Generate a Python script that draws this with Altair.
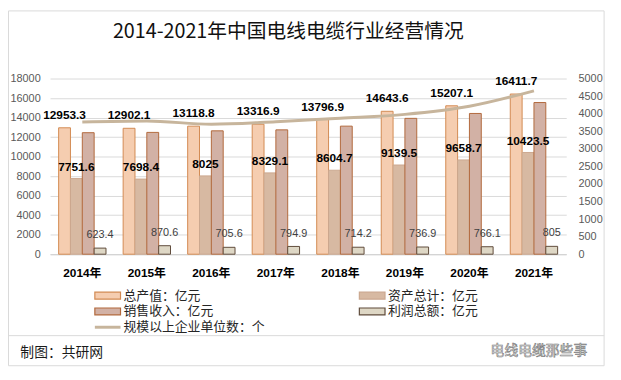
import altair as alt
import pandas as pd

# ---------------- data ----------------
years = ["2014年", "2015年", "2016年", "2017年", "2018年", "2019年", "2020年", "2021年"]
output_value = [12953.3, 12902.1, 13118.8, 13316.9, 13796.9, 14643.6, 15207.1, 16411.7]
total_assets = [7751.6, 7698.4, 8025, 8329.1, 8604.7, 9139.5, 9658.7, 10423.5]
sales_revenue = [12450, 12480, 12640, 12740, 13120, 13920, 14420, 15540]
total_profit = [623.4, 870.6, 705.6, 794.9, 714.2, 736.9, 766.1, 805]
enterprises = [3760, 3790, 3700, 3770, 3870, 3980, 4210, 4650]

series_names = ["总产值：亿元", "资产总计：亿元", "销售收入：亿元", "利润总额：亿元"]
line_name = "规模以上企业单位数：个"
left_ticks = list(range(0, 18001, 2000))
right_ticks = list(range(0, 5001, 500))

title_text = "2014-2021年中国电线电缆行业经营情况"
footer_text = "制图：共研网"
mark_text_wm = "电线电缆那些事"

# ---------------- styles ----------------
fills = ["#F5CDB0", "#D7B9A2", "#D2B1A5", "#DED7C5"]
strokes = ["#D28A52", "#CBA88F", "#B2693C", "#5F4B3B"]
line_color = "#C7B59C"
NUM_FONT = "Liberation Sans"
CJK_FONT = "Noto Sans CJK SC"
MIX_FONT = "Liberation Sans, Noto Sans CJK SC"

W, H = 523, 178
PX0, PY0 = 50.6, 77  # page position of plot origin


def cx(px):
    return px - PX0


def cy(py):
    return py - PY0


rows = []
for s, vals in zip(series_names, [output_value, total_assets, sales_revenue, total_profit]):
    for yr, v in zip(years, vals):
        rows.append({"year": yr, "series": s, "value": v, "label": f"{v:g}"})
long_df = pd.DataFrame(rows)
line_df = pd.DataFrame({"year": years, "count": enterprises})
one = pd.DataFrame({"a": [0]})

x_scale = alt.Scale(domain=years, paddingInner=0.266, paddingOuter=0.133)
xo = alt.XOffset("series:N", sort=series_names,
                 scale=alt.Scale(domain=series_names, paddingInner=0, paddingOuter=0))

x_axis = alt.Axis(title=None, labelAngle=0, labelFont=MIX_FONT, labelFontSize=12,
                  labelFontWeight="bold", labelColor="#000000", ticks=False,
                  domainColor="#D0D0D0", labelPadding=14)

bars = alt.Chart(long_df).mark_bar(strokeWidth=1).encode(
    x=alt.X("year:N", sort=years, scale=x_scale, axis=x_axis),
    xOffset=xo,
    y=alt.Y("value:Q", scale=alt.Scale(domain=[0, 18000], nice=False),
            axis=alt.Axis(title=None, values=left_ticks, format="d", grid=True, gridColor="#D9D9D9",
                          domain=False, ticks=False, labelPadding=10, labelFont=NUM_FONT,
                          labelFontSize=11, labelColor="#595959")),
    fill=alt.Fill("series:N", scale=alt.Scale(domain=series_names, range=fills), legend=None),
    stroke=alt.Stroke("series:N", scale=alt.Scale(domain=series_names, range=strokes), legend=None),
)

line = alt.Chart(line_df).mark_line(color=line_color, strokeWidth=3, interpolate="monotone").encode(
    x=alt.X("year:N", sort=years, scale=x_scale, axis=x_axis),
    y=alt.Y("count:Q", scale=alt.Scale(domain=[0, 5000], nice=False),
            axis=alt.Axis(orient="right", title=None, values=right_ticks, format="d", grid=False,
                          domain=False, ticks=False, labelPadding=12, labelFont=NUM_FONT,
                          labelFontSize=11, labelColor="#595959")),
)


def label_layer(sname, size, weight, color, dy):
    return alt.Chart(long_df).transform_filter(alt.datum.series == sname).mark_text(
        font=NUM_FONT, fontSize=size, fontWeight=weight, color=color, dy=dy, baseline="middle"
    ).encode(
        x=alt.X("year:N", sort=years, scale=x_scale, axis=x_axis),
        xOffset=xo,
        y=alt.Y("value:Q", scale=alt.Scale(domain=[0, 18000], nice=False), axis=None),
        text="label:N",
    )


labels = alt.layer(
    label_layer(series_names[0], 12, "bold", "#000000", -13),
    label_layer(series_names[1], 12, "bold", "#000000", -12),
    label_layer(series_names[3], 11, "normal", "#404040", -13),
)

deco = []
# title
deco.append(alt.Chart(one).mark_text(font=CJK_FONT, fontSize=20, color="#111111",
                                     align="center", baseline="middle").encode(
    x=alt.value(cx(292)), y=alt.value(cy(30)), text=alt.value(title_text)))
# frame and separator
fx1, fx2, fy1, fy2 = cx(8.5), cx(612), cy(8.5), cy(368)
for a, b, c, d in [(fx1, fx2, fy1, fy1), (fx1, fx2, fy2, fy2), (fx1, fx1, fy1, fy2),
                   (fx2, fx2, fy1, fy2), (fx1, fx2, cy(337.5), cy(337.5))]:
    deco.append(alt.Chart(one).mark_rule(color="#D9D9D9", strokeWidth=1).encode(
        x=alt.value(a), x2=alt.value(b), y=alt.value(c), y2=alt.value(d)))
# legend
legend_items = [(series_names[0], 0, 0), (series_names[1], 1, 0),
                (series_names[2], 0, 1), (series_names[3], 1, 1)]
col_x = [96, 364]
row_y = [297, 313, 329]
for i, (name, c, r) in enumerate(legend_items):
    sx = col_x[c]
    sy = row_y[r]
    deco.append(alt.Chart(one).mark_rect(fill=fills[i], stroke=strokes[i], strokeWidth=1.2).encode(
        x=alt.value(cx(sx)), x2=alt.value(cx(sx + 26)),
        y=alt.value(cy(sy - 3.5)), y2=alt.value(cy(sy + 3.5))))
    deco.append(alt.Chart(one).mark_text(font=CJK_FONT, fontSize=13, color="#262626",
                                         align="left", baseline="middle").encode(
        x=alt.value(cx(sx + 29)), y=alt.value(cy(sy)), text=alt.value(name)))
deco.append(alt.Chart(one).mark_rule(color=line_color, strokeWidth=3).encode(
    x=alt.value(cx(96)), x2=alt.value(cx(122)), y=alt.value(cy(row_y[2])), y2=alt.value(cy(row_y[2]))))
deco.append(alt.Chart(one).mark_text(font=CJK_FONT, fontSize=13, color="#262626",
                                     align="left", baseline="middle").encode(
    x=alt.value(cx(125)), y=alt.value(cy(row_y[2])), text=alt.value(line_name)))
# footer
deco.append(alt.Chart(one).mark_text(font=CJK_FONT, fontSize=14, color="#1a1a1a",
                                     align="left", baseline="middle").encode(
    x=alt.value(cx(20.5)), y=alt.value(cy(355)), text=alt.value(footer_text)))
deco.append(alt.Chart(one).mark_text(font=CJK_FONT, fontSize=14, fill="#ffffff", stroke="#777777",
                                     strokeWidth=0.6, align="left", baseline="middle").encode(
    x=alt.value(cx(497)), y=alt.value(cy(353)), text=alt.value(mark_text_wm)))

chart = alt.layer(bars, line, labels, *deco).resolve_scale(y="independent").properties(
    width=W, height=H,
    padding={"left": 42.6, "top": 69, "right": 47.4, "bottom": 125},
    autosize=alt.AutoSizeParams(type="none"),
    background="white",
).configure_view(stroke=None)

chart.save("out.html", embed_options={"renderer": "svg", "actions": False})
